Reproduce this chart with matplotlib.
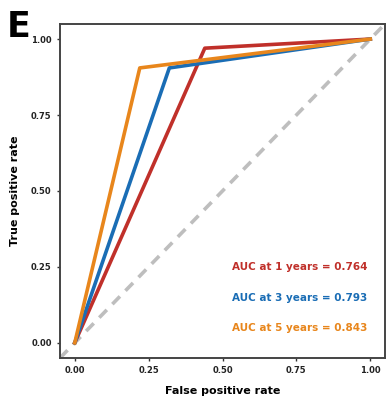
from matplotlib import pyplot as plt

# ROC points (false positive rate, true positive rate)
fpr_1y = [0.0, 0.44, 1.0]
tpr_1y = [0.0, 0.97, 1.0]
fpr_3y = [0.0, 0.32, 1.0]
tpr_3y = [0.0, 0.905, 1.0]
fpr_5y = [0.0, 0.22, 1.0]
tpr_5y = [0.0, 0.905, 1.0]

auc_labels = ["AUC at 1 years = 0.764", "AUC at 3 years = 0.793", "AUC at 5 years = 0.843"]
colors = ['#C0302A', '#1A6DB5', '#E8861C']
ticks = [0.0, 0.25, 0.5, 0.75, 1.0]
tick_labels = ['0.00', '0.25', '0.50', '0.75', '1.00']

fig = plt.figure(figsize=(3.87, 3.98), dpi=100)
ax = fig.add_axes([0.155, 0.1005, 0.84, 0.8395])

ax.plot([-0.05, 1.05], [-0.05, 1.05], color='#BEBEBE', linestyle=(0, (3, 2.2)), linewidth=2.6, zorder=1)
ax.plot(fpr_1y, tpr_1y, color=colors[0], linewidth=2.6, zorder=3)
ax.plot(fpr_3y, tpr_3y, color=colors[1], linewidth=2.6, zorder=4)
ax.plot(fpr_5y, tpr_5y, color=colors[2], linewidth=2.6, zorder=5)

for i, lab in enumerate(auc_labels):
    ax.text(0.99, 0.248 - i * 0.099, lab, color=colors[i], fontsize=7.5, fontweight='bold',
            ha='right', va='center')

ax.set_xlim(-0.05, 1.05)
ax.set_ylim(-0.05, 1.05)
ax.set_xticks(ticks)
ax.set_xticklabels(tick_labels)
ax.set_yticks(ticks)
ax.set_yticklabels(tick_labels)
ax.tick_params(labelsize=6, length=2.5, width=1, color='#333333', labelcolor='#222222')
for lab in ax.get_xticklabels() + ax.get_yticklabels():
    lab.set_fontweight('bold')
for s in ax.spines.values():
    s.set_linewidth(1.4)
    s.set_color('#444444')

ax.set_xlabel("False positive rate", fontsize=8, fontweight='bold', labelpad=8)
ax.set_ylabel("True positive rate", fontsize=8, fontweight='bold', labelpad=8)

fig.text(0.018, 0.975, "E", fontsize=25, fontweight='bold', ha='left', va='top')

fig.savefig('out.png', dpi=100)
